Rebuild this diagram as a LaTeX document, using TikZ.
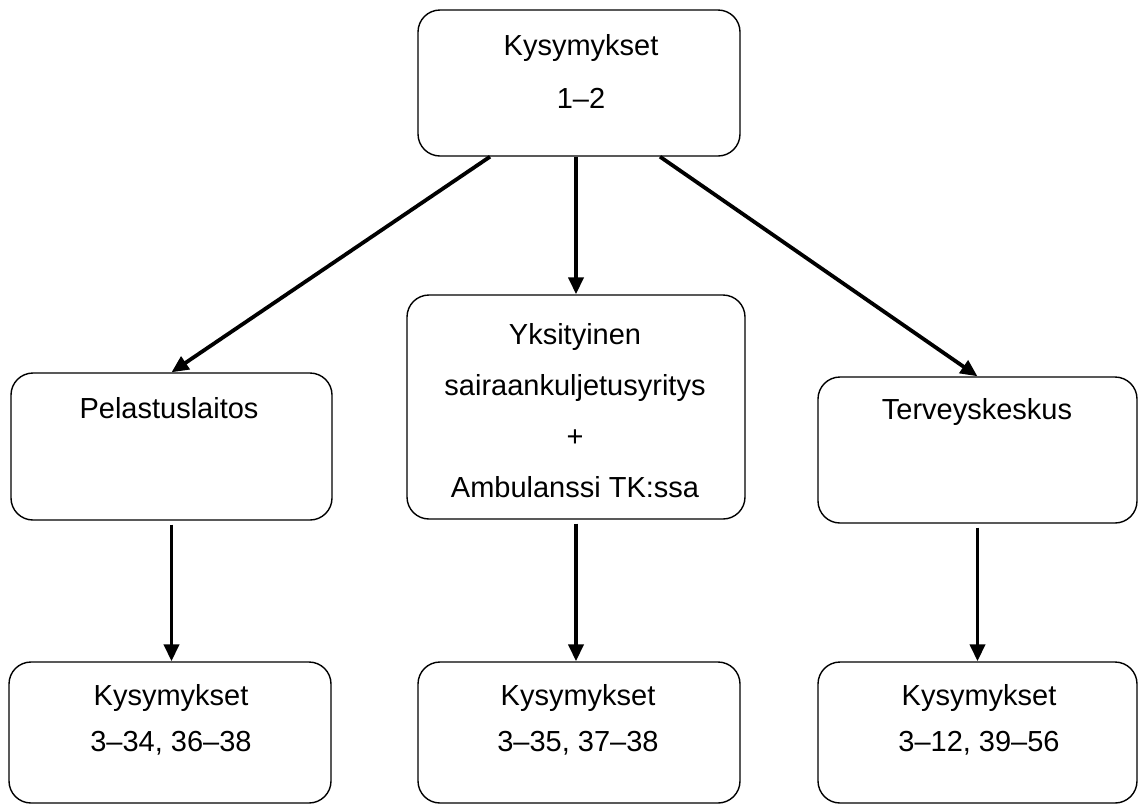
\documentclass[tikz,border=0pt]{standalone}
\usepackage{fontspec}
\setmainfont{Liberation Sans}
\usepackage{tikz}
\usetikzlibrary{arrows.meta,positioning,calc}

\begin{document}
\begin{tikzpicture}[x=0.5pt,y=-0.5pt,
  box/.style={draw,line width=0.7pt,rounded corners=11pt,minimum width=161pt,inner sep=0pt},
  txt/.style={align=center,font=\fontsize{14.5}{17}\selectfont,inner sep=0pt},
  arrow/.style={-{Triangle[length=8.5pt,width=7.5pt]},line width=1.9pt}
]
\useasboundingbox (0,0) rectangle (1144,805);
% boxes
\node[box,minimum height=73pt] (top) at (579,83) {};
\node[box,minimum height=73.5pt,minimum width=160.5pt] (pel) at (171.5,446.5) {};
\node[box,minimum height=112pt,minimum width=169pt] (yks) at (576,407) {};
\node[box,minimum height=73pt,minimum width=159.5pt] (ter) at (977.5,450) {};
\node[box,minimum height=70.5pt] (q1) at (170,732.5) {};
\node[box,minimum height=70.5pt] (q2) at (579,732.5) {};
\node[box,minimum height=70.5pt,minimum width=159.5pt] (q3) at (977.5,732.5) {};
% texts
\node[txt] (ttop) at (581,71) {Kysymykset\\[9.5pt]1--2};
\node[txt] (tpel) at (169,408) {Pelastuslaitos};
\node[txt] (tyks) at (575,411) {Yksityinen\\[8.5pt]sairaankuljetusyritys\\[8.5pt]+\\[8.5pt]Ambulanssi TK:ssa};
\node[txt] (tter) at (977,412) {Terveyskeskus};
\node[txt] (tq1) at (171,720) {Kysymykset\\[6pt]3--34, 36--38};
\node[txt] (tq2) at (578,720) {Kysymykset\\[6pt]3--35, 37--38};
\node[txt] (tq3) at (979,720) {Kysymykset\\[6pt]3--12, 39--56};
% connectors
\draw[arrow] ($(top.south)+(-89,0)$) -- (pel.north);
\draw[arrow] (yks.north |- top.south) -- (yks.north);
\draw[arrow] ($(top.south)+(81,0)$) -- (ter.north);
\draw[arrow,shorten <=2pt] (pel.south) -- (pel.south |- q1.north);
\draw[arrow,shorten <=2pt] (yks.south) -- (yks.south |- q2.north);
\draw[arrow,shorten <=2pt] (ter.south) -- (ter.south |- q3.north);
\end{tikzpicture}
\end{document}
